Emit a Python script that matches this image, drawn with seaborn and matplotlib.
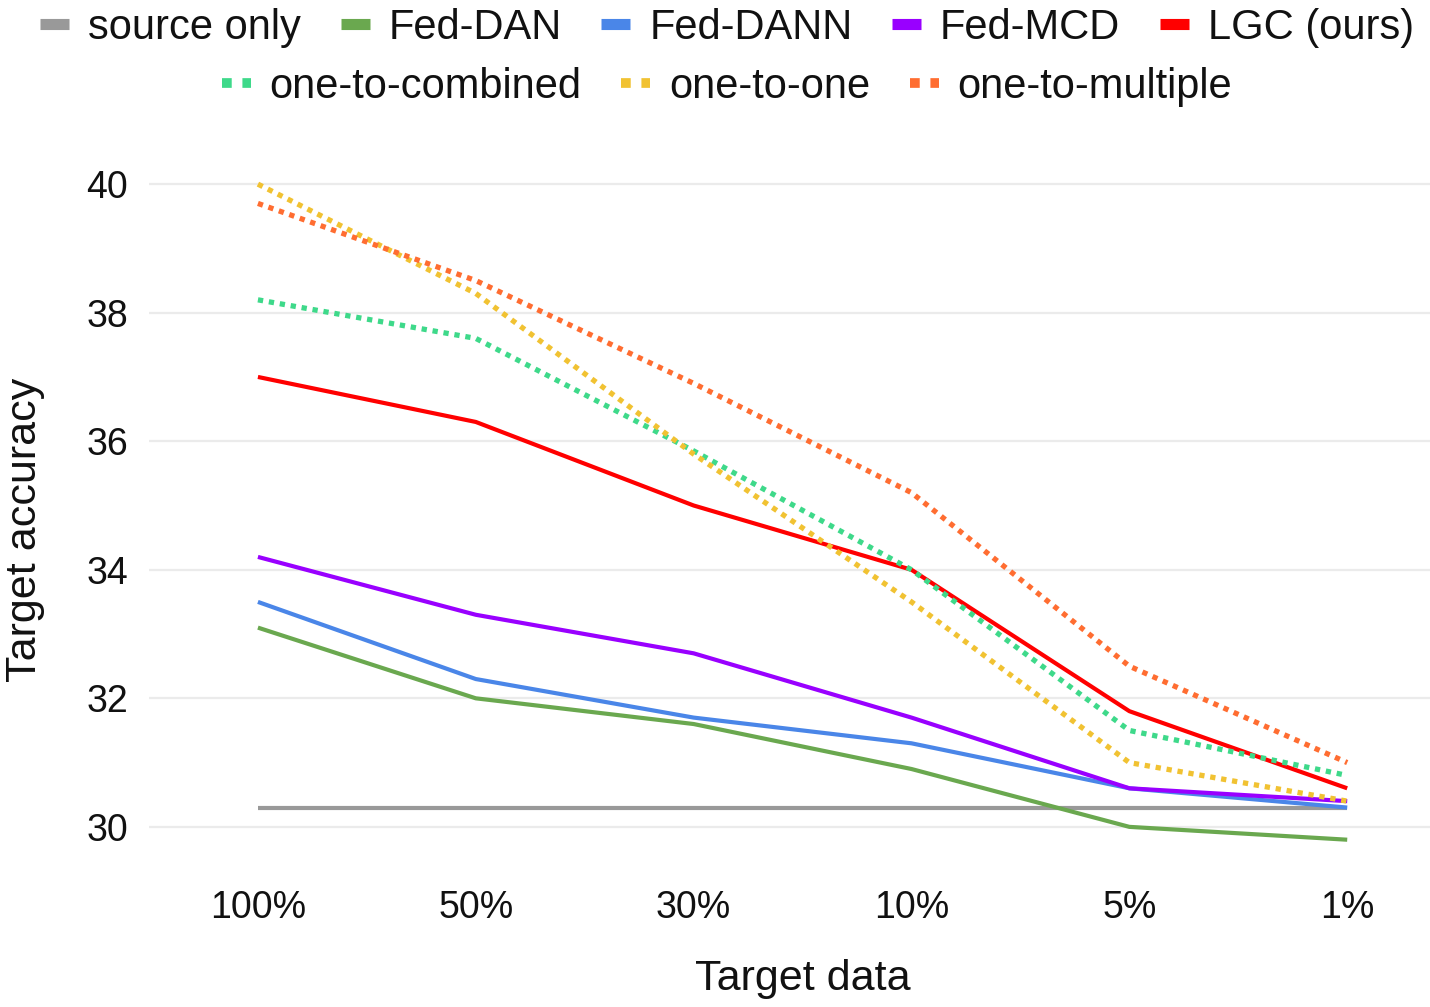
import matplotlib
matplotlib.use("Agg")
import matplotlib.pyplot as plt
from matplotlib.lines import Line2D
import seaborn as sns
import pandas as pd

# categories on the x axis
target_data = ["100%", "50%", "30%", "10%", "5%", "1%"]

# series values
source_only = [30.3, 30.3, 30.3, 30.3, 30.3, 30.3]
fed_dan = [33.1, 32.0, 31.6, 30.9, 30.0, 29.8]
fed_dann = [33.5, 32.3, 31.7, 31.3, 30.6, 30.3]
fed_mcd = [34.2, 33.3, 32.7, 31.7, 30.6, 30.4]
lgc = [37.0, 36.3, 35.0, 34.0, 31.8, 30.6]
one_to_combined = [38.2, 37.6, 35.85, 34.0, 31.5, 30.8]
one_to_one = [40.0, 38.3, 35.8, 33.5, 31.0, 30.4]
one_to_multiple = [39.7, 38.5, 36.9, 35.2, 32.5, 31.0]

solid_series = [
    ("source only", source_only, "#999999"),
    ("Fed-DAN", fed_dan, "#6aa84f"),
    ("Fed-DANN", fed_dann, "#4a86e8"),
    ("Fed-MCD", fed_mcd, "#9900ff"),
    ("LGC (ours)", lgc, "#ff0000"),
]
dotted_series = [
    ("one-to-combined", one_to_combined, "#3ed98a"),
    ("one-to-one", one_to_one, "#f1c232"),
    ("one-to-multiple", one_to_multiple, "#ff6d31"),
]

sns.set_style("white")
plt.rcParams['font.family'] = ['Liberation Sans', 'DejaVu Sans']

fig = plt.figure(figsize=(14.3, 10.07), dpi=100)
# axes placed so that 30 -> y=827px and 40 -> y=184px
ax = fig.add_axes([149 / 1430, 1 - 859 / 1007, (1430 - 149) / 1430, (859 - 152) / 1007])

for name, vals, color in solid_series:
    df = pd.DataFrame({"Target data": target_data, "acc": vals})
    sns.lineplot(data=df, x="Target data", y="acc", color=color, linewidth=3.0,
                 ax=ax, sort=False, solid_capstyle="butt")

for name, vals, color in dotted_series:
    df = pd.DataFrame({"Target data": target_data, "acc": vals})
    sns.lineplot(data=df, x="Target data", y="acc", color=color, linewidth=3.8,
                 ax=ax, sort=False, linestyle=(0, (1, 1.1)), dash_capstyle="butt")

ax.set_xlim(-0.5, 5.38)
ax.set_ylim(29.5, 40.5)
ax.set_yticks([30, 32, 34, 36, 38, 40])
ax.yaxis.grid(True, color="#ebebeb", linewidth=1.6)
ax.set_axisbelow(True)
for s in ax.spines.values():
    s.set_visible(False)
ax.tick_params(axis="both", length=0, labelsize=27, colors="#111111")
ax.tick_params(axis="x", pad=22)
ax.tick_params(axis="y", pad=15)
ax.set_xlabel("Target data", fontsize=31, labelpad=22, color="#111111")
ax.xaxis.set_label_coords(0.5105, -0.141)
ax.set_ylabel("Target accuracy", fontsize=31, color="#111111")
ax.yaxis.set_label_coords(-0.081, 0.465)

# legend: two centred rows
h1 = [Line2D([0], [0], color=c, linewidth=8, solid_capstyle="butt") for _, _, c in solid_series]
l1 = [n for n, _, _ in solid_series]
h2 = [Line2D([0], [0], color=c, linewidth=7, linestyle=(0, (1, 1.1)), dash_capstyle="butt")
      for _, _, c in dotted_series]
l2 = [n for n, _, _ in dotted_series]

leg1 = fig.legend(h1, l1, loc="center", bbox_to_anchor=(727 / 1430, 1 - 28 / 1007), ncol=5,
                  frameon=False, fontsize=30, handlelength=0.7, handletextpad=0.45,
                  columnspacing=0.95, labelcolor="#111111")
leg2 = fig.legend(h2, l2, loc="center", bbox_to_anchor=(727 / 1430, 1 - 87 / 1007), ncol=3,
                  frameon=False, fontsize=30, handlelength=0.7, handletextpad=0.45,
                  columnspacing=0.95, labelcolor="#111111")

fig.savefig("out.png", dpi=100)
